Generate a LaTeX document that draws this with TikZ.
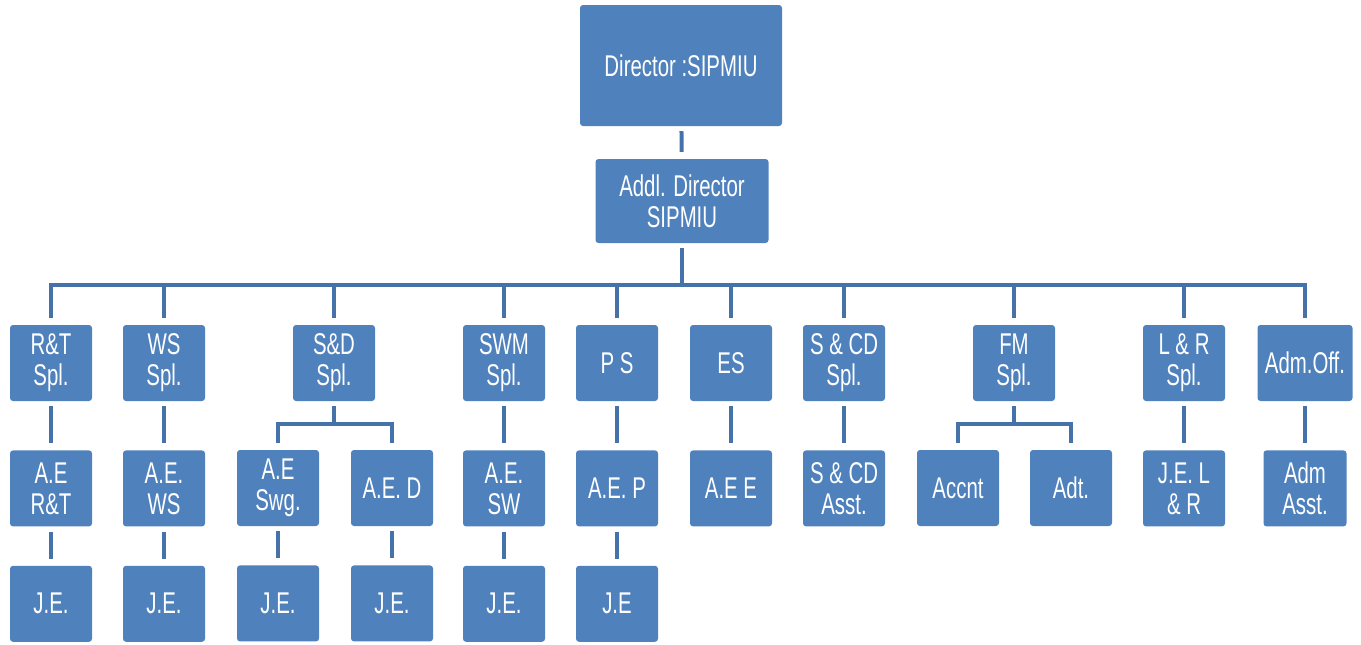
\documentclass[tikz,border=0pt]{standalone}
\usepackage{fontspec}
\setmainfont{Liberation Sans}[FakeStretch=0.68]
\usepackage{xcolor}
\usepackage{tikz}
\usetikzlibrary{positioning}
\definecolor{sipmiublue}{HTML}{4F81BD}
\definecolor{sipmiuline}{HTML}{4672AA}

\begin{document}
\begin{tikzpicture}[
  x=1pt, y=-1pt,
  every node/.style={font=\fontsize{30}{31}\selectfont, text=white},
  unit/.style={fill=sipmiublue, rounded corners=3pt, align=center,
               minimum width=82pt, minimum height=76pt, inner sep=2pt},
  link/.style={draw=sipmiuline, line width=4pt, shorten <=5pt, shorten >=7pt}
]
  \useasboundingbox (0,0) rectangle (1361,645);

  \node[unit, minimum width=202pt, minimum height=121pt] (dir) at (681,65.5) {Director :SIPMIU};
  \node[unit, minimum width=173pt, minimum height=84pt] (addl) at (682,201) {Addl. Director\\SIPMIU};

  % specialists
  \node[unit] (rt) at (51,363) {R\&T\\Spl.};
  \node[unit] (ws) at (164,363) {WS\\Spl.};
  \node[unit] (sd) at (334,363) {S\&D\\Spl.};
  \node[unit] (swm) at (504,363) {SWM\\Spl.};
  \node[unit] (ps) at (617,363) {P S};
  \node[unit] (es) at (731,363) {ES};
  \node[unit] (scd) at (844,363) {S \& CD\\Spl.};
  \node[unit] (fm) at (1014,363) {FM\\Spl.};
  \node[unit] (lr) at (1184,363) {L \& R\\Spl.};
  \node[unit, minimum width=95pt] (adm) at (1305,363) {Adm.Off.};

  % assistants
  \node[unit, below=49pt of rt] (aert) {A.E\\R\&T};
  \node[unit, below=49pt of ws] (aews) {A.E.\\WS};
  \node[unit] (aeswg) at (278,488) {A.E\\Swg.};
  \node[unit] (aed) at (392,488) {A.E. D};
  \node[unit, below=49pt of swm] (aesw) {A.E.\\SW};
  \node[unit, below=49pt of ps] (aep) {A.E. P};
  \node[unit, below=49pt of es] (aee) {A.E E};
  \node[unit, below=49pt of scd] (scdasst) {S \& CD\\Asst.};
  \node[unit] (accnt) at (958,488) {Accnt};
  \node[unit] (adt) at (1071,488) {Adt.};
  \node[unit, below=49pt of lr] (jelr) {J.E. L\\\& R};
  \node[unit, below=49pt of adm, minimum width=83pt] (admasst) {Adm\\Asst.};

  % junior engineers
  \node[unit, below=39pt of aert] (jert) {J.E.};
  \node[unit, below=39pt of aews] (jews) {J.E.};
  \node[unit, below=39pt of aeswg] (jeswg) {J.E.};
  \node[unit, below=39pt of aed] (jed) {J.E.};
  \node[unit, below=39pt of aesw] (jesw) {J.E.};
  \node[unit, below=39pt of aep] (jep) {J.E};

  \draw[link] (dir) -- (addl);
  \foreach \n in {rt,ws,sd,swm,ps,es,scd,fm,lr,adm}
    \draw[link] (addl.south) -- ++(0,42) -| (\n.north);
  \foreach \n in {aeswg,aed}
    \draw[link] (sd.south) -- ++(0,23) -| (\n.north);
  \foreach \n in {accnt,adt}
    \draw[link] (fm.south) -- ++(0,23) -| (\n.north);
  \draw[link] (rt) -- (aert);
  \draw[link] (ws) -- (aews);
  \draw[link] (swm) -- (aesw);
  \draw[link] (ps) -- (aep);
  \draw[link] (es) -- (aee);
  \draw[link] (scd) -- (scdasst);
  \draw[link] (lr) -- (jelr);
  \draw[link] (adm) -- (admasst);
  \draw[link] (aert) -- (jert);
  \draw[link] (aews) -- (jews);
  \draw[link] (aeswg) -- (jeswg);
  \draw[link] (aed) -- (jed);
  \draw[link] (aesw) -- (jesw);
  \draw[link] (aep) -- (jep);
\end{tikzpicture}
\end{document}
